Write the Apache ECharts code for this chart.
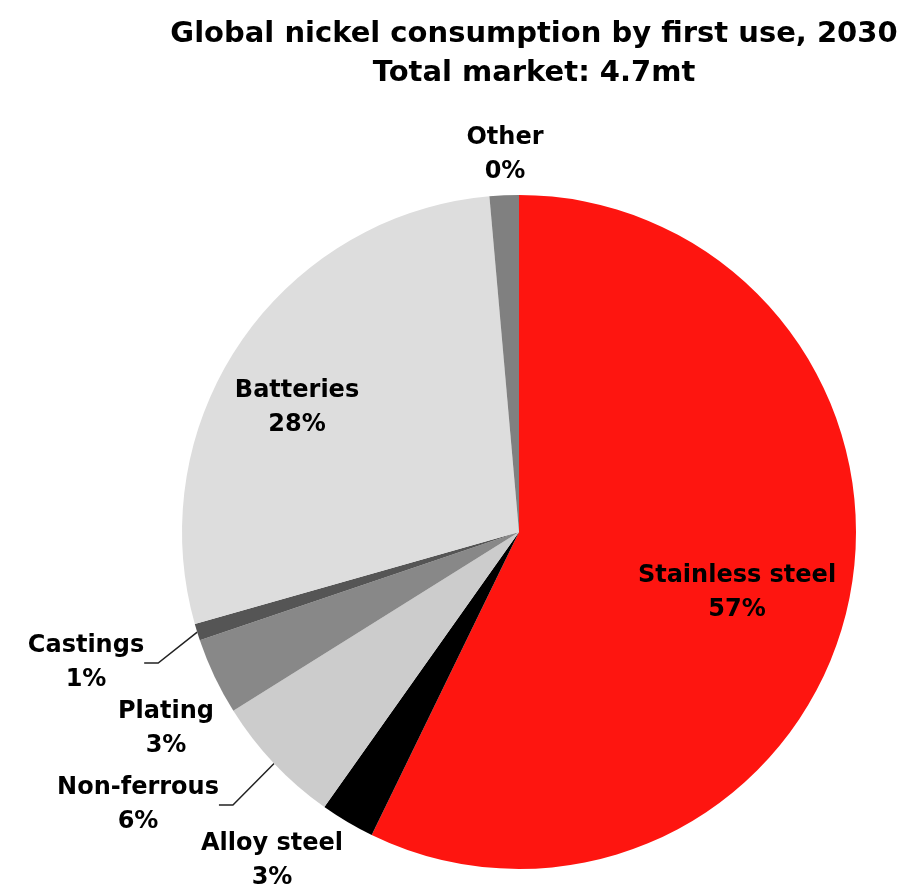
<!DOCTYPE html>
<html>
<head>
<meta charset="utf-8">
<script src="https://cdn.jsdelivr.net/npm/echarts@6/dist/echarts.min.js"></script>
<style>
  html, body { margin: 0; padding: 0; background: #fff; }
  #main { width: 905px; height: 887px; }
</style>
</head>
<body>
<div id="main"></div>
<script>
// Dados
const categories = ['Stainless steel', 'Alloy steel', 'Non-ferrous', 'Plating', 'Castings', 'Batteries', 'Other'];
const shares = [57.2, 2.6, 6.3, 3.7, 0.8, 28.0, 1.4];
const shareLabels = ['57%', '3%', '6%', '3%', '1%', '28%', '0%'];
const colors = ['#fe1510', '#000000', '#cccccc', '#888888', '#555555', '#dddddd', '#808080'];

// posições dos rótulos (centro do bloco de texto)
const labelPos = [
  [737, 593], [272, 861], [138, 805], [166, 729], [86, 663], [297, 408], [505, 155]
];
const withLine = [false, false, true, false, true, false, false];

const chart = echarts.init(document.getElementById('main'));

const option = {
  backgroundColor: '#fff',
  animation: false,
  title: {
    text: 'Global nickel consumption by first use, 2030\nTotal market: 4.7mt',
    left: 529,
    top: 10,
    textAlign: 'center',
    textStyle: {
      fontFamily: 'DejaVu Sans',
      fontWeight: 'bold',
      fontSize: 29,
      lineHeight: 39,
      color: '#000'
    }
  },
  series: [{
    type: 'pie',
    center: [519, 532],
    radius: [0, 337],
    startAngle: 90,
    clockwise: true,
    avoidLabelOverlap: false,
    itemStyle: { borderWidth: 0 },
    label: {
      show: true,
      position: 'outside',
      formatter: p => p.name + '\n' + shareLabels[p.dataIndex],
      fontFamily: 'DejaVu Sans',
      fontWeight: 'bold',
      fontSize: 24,
      lineHeight: 34,
      color: '#000',
      align: 'center'
    },
    labelLine: {
      show: true,
      length: 10,
      length2: 14,
      lineStyle: { color: '#222', width: 1.5 }
    },
    labelLayout: p => ({
      x: labelPos[p.dataIndex][0],
      y: labelPos[p.dataIndex][1],
      align: 'center',
      verticalAlign: 'middle'
    }),
    data: categories.map((c, i) => ({
      name: c,
      value: shares[i],
      itemStyle: { color: colors[i] },
      labelLine: { show: withLine[i] }
    }))
  }]
};

chart.setOption(option);
</script>
</body>
</html>
